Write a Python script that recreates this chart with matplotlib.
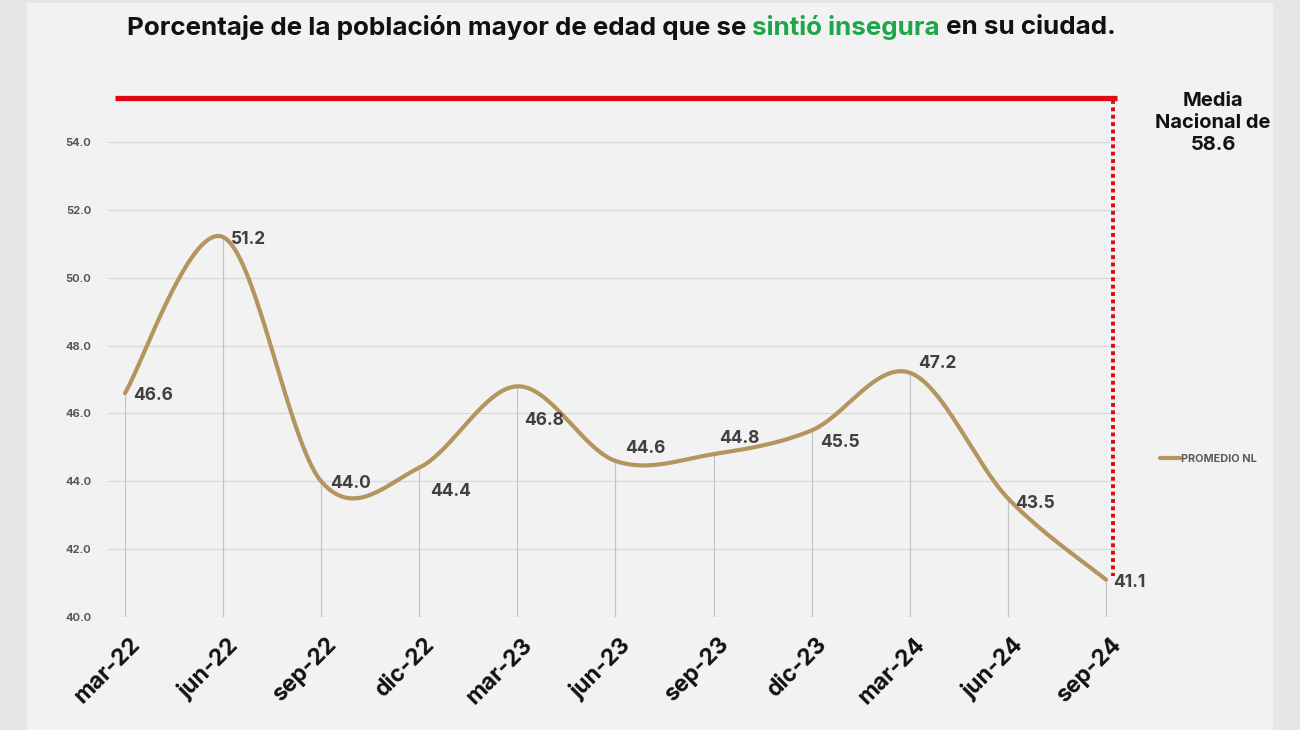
import matplotlib
matplotlib.use("Agg")
import matplotlib.pyplot as plt
import matplotlib.transforms as mtransforms
import numpy as np
from matplotlib.patches import Rectangle

plt.rcParams['font.family'] = ['Inter', 'DejaVu Sans']

# data
periods = ["mar-22", "jun-22", "sep-22", "dic-22", "mar-23", "jun-23",
           "sep-23", "dic-23", "mar-24", "jun-24", "sep-24"]
promedio_nl = [46.6, 51.2, 44.0, 44.4, 46.8, 44.6, 44.8, 45.5, 47.2, 43.5, 41.1]
media_nacional_label = "Media\nNacional de\n58.6"
series_name = "PROMEDIO NL"
y_ticks = [40, 42, 44, 46, 48, 50, 52, 54]

# label offsets in pixels (dx, dy) for each point, dy > 0 means above
label_offsets = [(8, -2), (8, -3), (9, -2), (11, -24), (7, -34), (10, 12),
                 (6, 16), (8, -12), (8, 9), (7, -5), (7, -3)]

LINE_COLOR = "#b5955f"
BG = "#f2f2f2"


def smooth_curve(xs, ys, n=40):
    # excel-like smoothed line: bezier segments with catmull-rom control points
    px = np.concatenate([[xs[0]], xs, [xs[-1]]])
    py = np.concatenate([[ys[0]], ys, [ys[-1]]])
    out_x, out_y = [], []
    t = np.linspace(0, 1, n)
    for i in range(1, len(px) - 2):
        p0 = np.array([px[i], py[i]])
        p3 = np.array([px[i + 1], py[i + 1]])
        c1 = p0 + (np.array([px[i + 1], py[i + 1]]) - np.array([px[i - 1], py[i - 1]])) / 6
        c2 = p3 - (np.array([px[i + 2], py[i + 2]]) - np.array([px[i], py[i]])) / 6
        b = ((1 - t) ** 3)[:, None] * p0 + (3 * (1 - t) ** 2 * t)[:, None] * c1 \
            + (3 * (1 - t) * t ** 2)[:, None] * c2 + (t ** 3)[:, None] * p3
        out_x.extend(b[:, 0])
        out_y.extend(b[:, 1])
    return np.array(out_x), np.array(out_y)


fig = plt.figure(figsize=(13, 7.3), dpi=100, facecolor="#e6e6e6")
fig.patches.append(Rectangle((27 / 1300, 0), (1273 - 27) / 1300, 727 / 730,
                             transform=fig.transFigure, facecolor=BG,
                             edgecolor="none", zorder=-10))

ax = fig.add_axes([108 / 1300, (730 - 617) / 730, (1120 - 108) / 1300, (617 - 98) / 730])
ax.set_facecolor(BG)
ax.patch.set_alpha(0)

x = np.arange(len(periods))
ymax = 54 + 44 / 33.93
ax.set_xlim(-0.173, 10.143)
ax.set_ylim(40, ymax)

for s in ax.spines.values():
    s.set_visible(False)
ax.set_yticks(y_ticks)
ax.set_yticklabels([f"{v:.1f}" for v in y_ticks], fontsize=8, fontweight="bold", color="#595959")
ax.yaxis.grid(True, color="#d9d9d9", lw=0.9)
ax.set_axisbelow(True)
ax.tick_params(length=0)
ax.tick_params(axis="y", pad=12)
ax.set_xticks(x)
ax.set_xticklabels(periods, rotation=45, ha="right", rotation_mode="anchor",
                   fontsize=16.5, fontweight="bold", color="#111111")
ax.tick_params(axis="x", pad=12)
shift = mtransforms.ScaledTranslation(4 / 100, 0, fig.dpi_scale_trans)
for lab in ax.get_xticklabels():
    lab.set_transform(lab.get_transform() + shift)

# drop lines
ax.vlines(x, 40, promedio_nl, color="#c4c4c4", lw=0.9, zorder=1)

sx, sy = smooth_curve(x.astype(float), np.array(promedio_nl))
ax.plot(sx, sy, color=LINE_COLOR, lw=3.0, solid_capstyle="round", zorder=3, label=series_name)

for xi, yi, (dx, dy) in zip(x, promedio_nl, label_offsets):
    ax.annotate(f"{yi:.1f}", (xi, yi), xytext=(dx * 0.72, dy * 0.72), textcoords="offset points",
                ha="left", va="center", fontsize=12.5, fontweight="bold", color="#404040", zorder=4)

# national mean reference
ax.plot([-0.102, 10.112], [ymax, ymax], color="#e30613", lw=3.8, clip_on=False,
        solid_capstyle="butt", zorder=5)
ax.plot([10.071, 10.071], [ymax - 0.05, 41.2], color="#e30613", lw=2.8, ls=(0, (1, 0.9)),
        clip_on=False, zorder=5)
fig.text(1213 / 1300, 1 - 123 / 730, media_nacional_label, ha="center", va="center",
         fontsize=14.5, fontweight="bold", color="#111111", linespacing=1.3)

ax.legend(loc="center left", bbox_to_anchor=(1150 / 1300, 1 - 459 / 730),
          bbox_transform=fig.transFigure, frameon=False, handlelength=1.9,
          handletextpad=0.1, prop={"size": 7.8, "weight": "bold"}, labelcolor="#595959")

# title with coloured part
parts = [("Porcentaje de la población mayor de edad que se ", "#111111"),
         ("sintió insegura", "#1ea64b"),
         (" en su ciudad.", "#111111")]
fig.canvas.draw()
r = fig.canvas.get_renderer()
texts = []
widths = []
for s, c in parts:
    t = fig.text(0, 1 - 28 / 730, s, fontsize=18.7, fontweight="bold", color=c,
                 ha="left", va="center")
    texts.append(t)
    widths.append(t.get_window_extent(r).width)
total = sum(widths)
start = 621 - total / 2
for t, w in zip(texts, widths):
    t.set_x(start / 1300)
    start += w

fig.savefig("out.png", dpi=100, facecolor=fig.get_facecolor())
